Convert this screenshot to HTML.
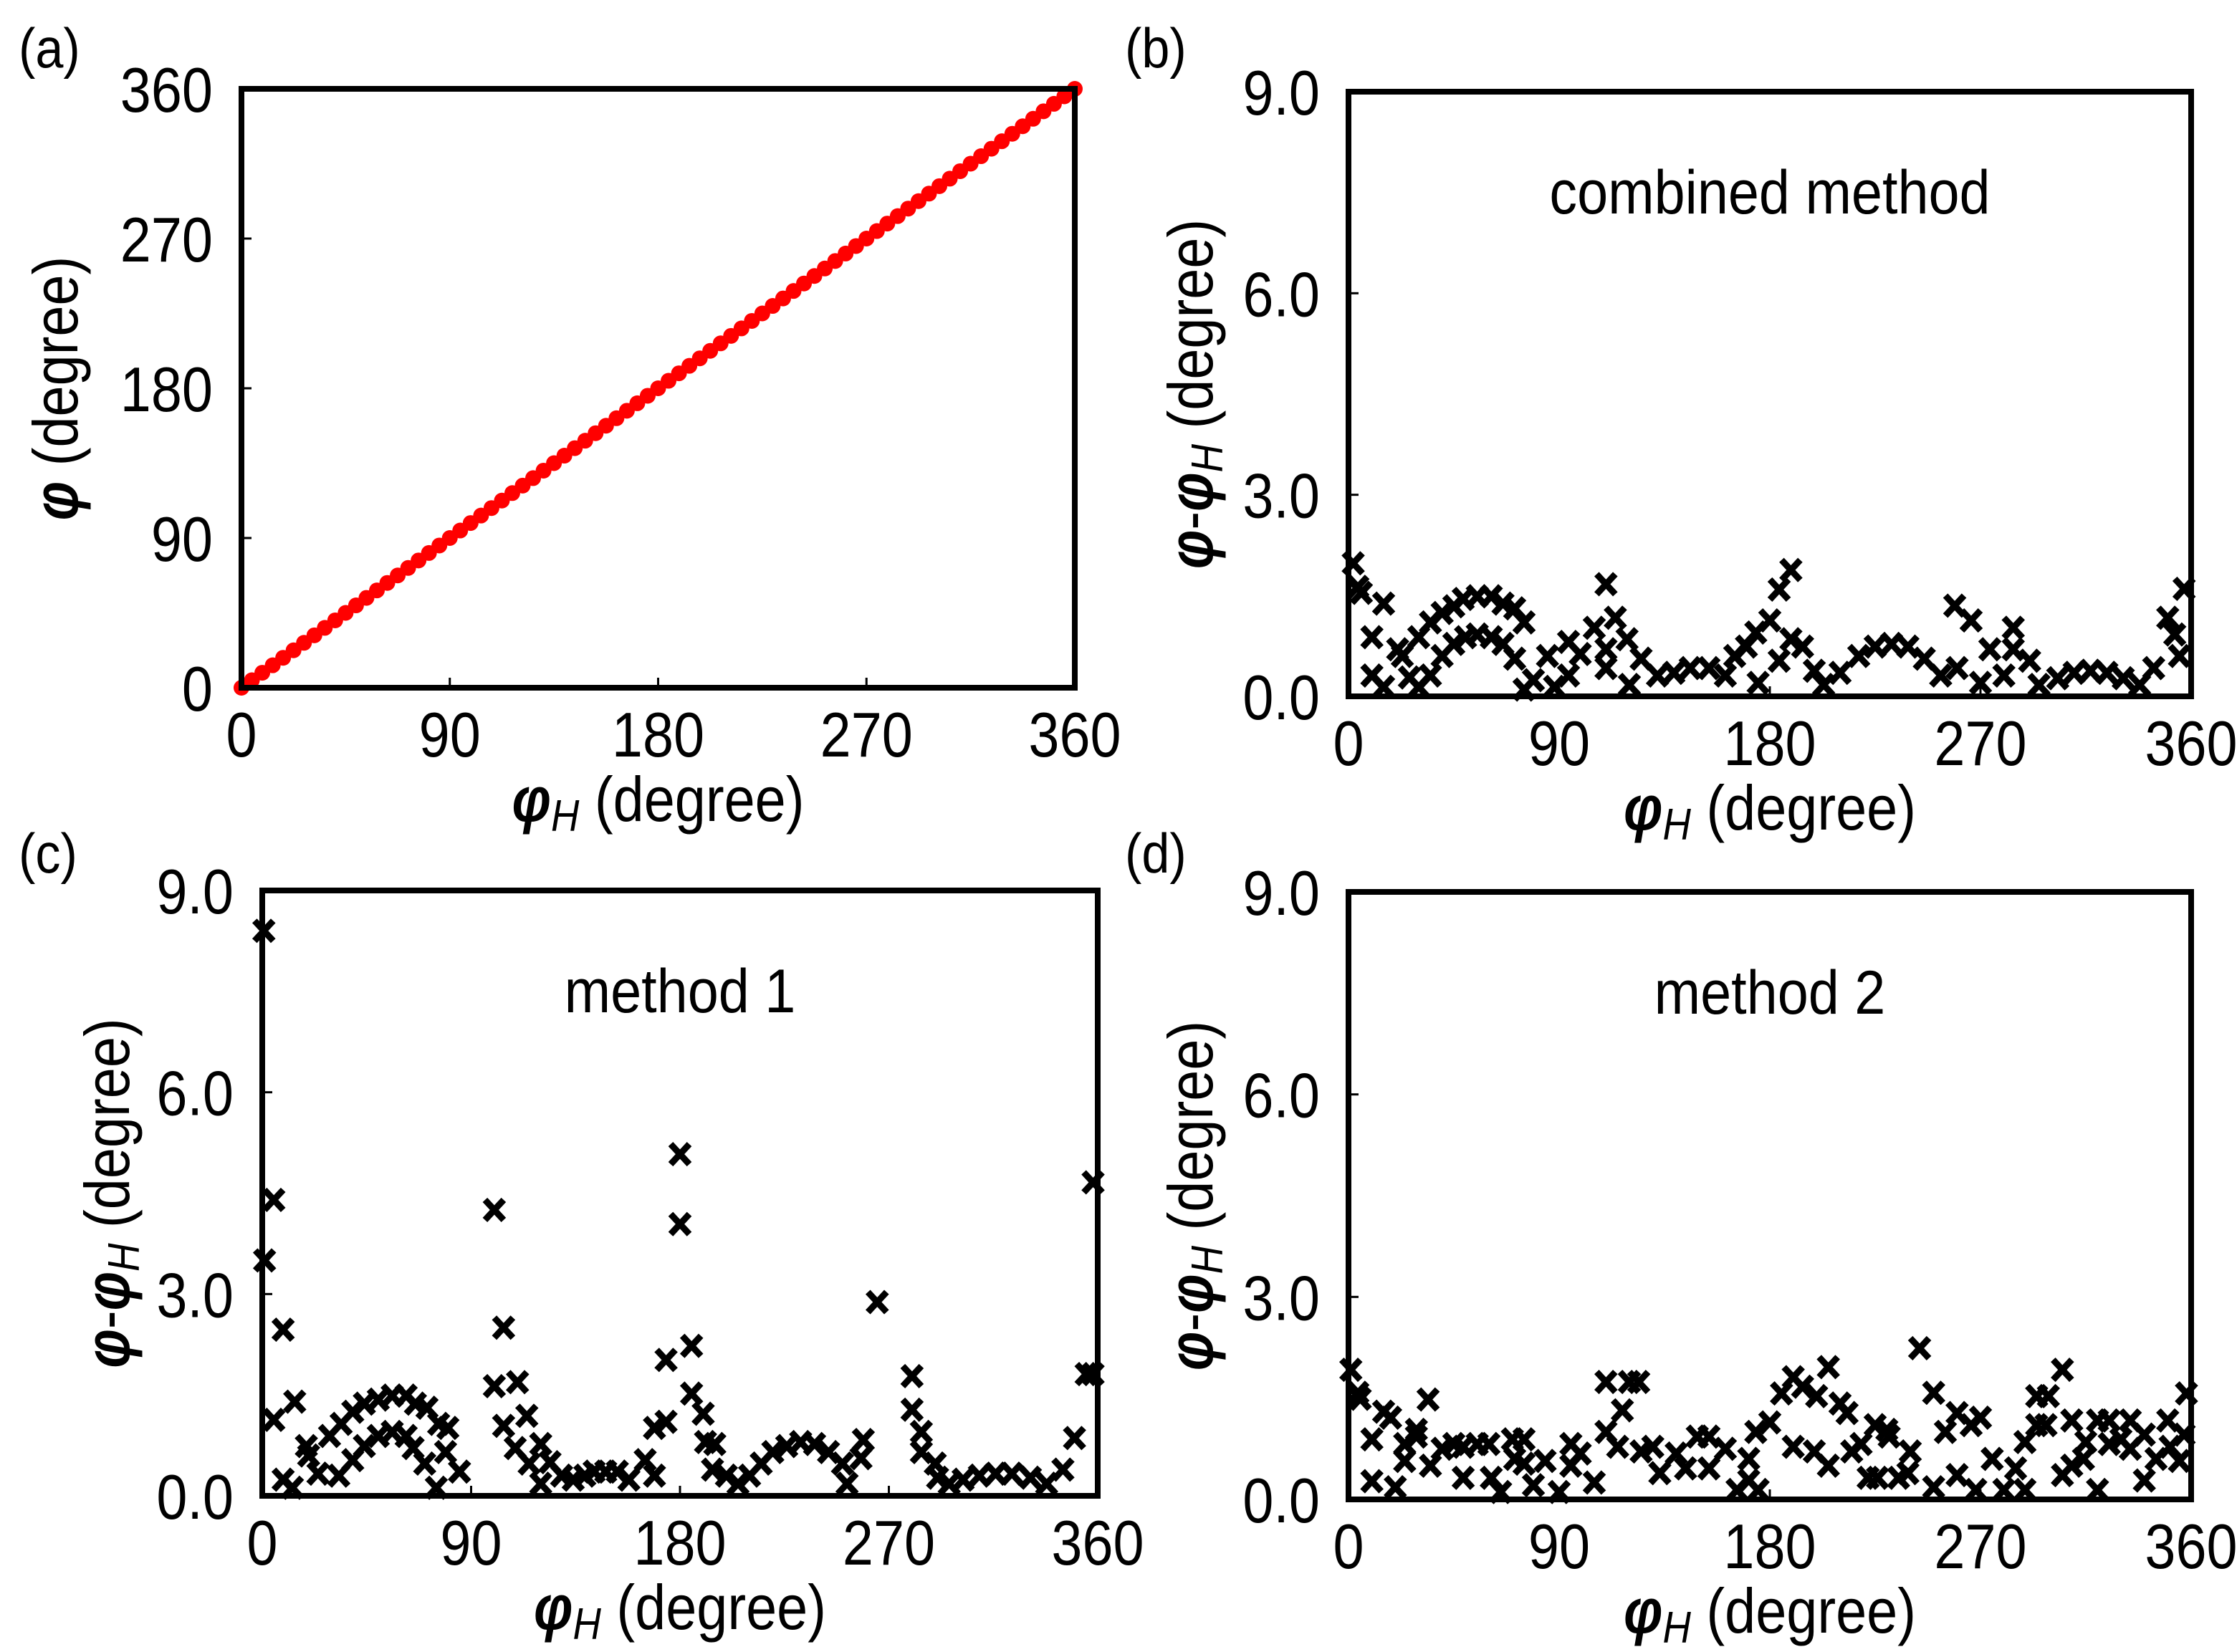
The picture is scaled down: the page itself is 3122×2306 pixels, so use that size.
<!DOCTYPE html>
<html><head><meta charset="utf-8">
<style>
html,body{margin:0;padding:0;background:#fff;}
svg{display:block;font-family:"Liberation Sans",Arial,sans-serif;}
</style></head>
<body>
<svg id="fig" width="3122" height="2306" viewBox="0 0 3122 2306" xmlns="http://www.w3.org/2000/svg"></svg>
<script>
// ---- data ----
const aPhiH = [0,4.5,9,13.5,18,22.5,27,31.5,36,40.5,45,49.5,54,58.5,63,67.5,72,76.5,81,85.5,90,94.5,99,103.5,108,112.5,117,121.5,126,130.5,135,139.5,144,148.5,153,157.5,162,166.5,171,175.5,180,184.5,189,193.5,198,202.5,207,211.5,216,220.5,225,229.5,234,238.5,243,247.5,252,256.5,261,265.5,270,274.5,279,283.5,288,292.5,297,301.5,306,310.5,315,319.5,324,328.5,333,337.5,342,346.5,351,355.5,360];
const aPhi  = [0,4.5,9,13.5,18,22.5,27,31.5,36,40.5,45,49.5,54,58.5,63,67.5,72,76.5,81,85.5,90,94.5,99,103.5,108,112.5,117,121.5,126,130.5,135,139.5,144,148.5,153,157.5,162,166.5,171,175.5,180,184.5,189,193.5,198,202.5,207,211.5,216,220.5,225,229.5,234,238.5,243,247.5,252,256.5,261,265.5,270,274.5,279,283.5,288,292.5,297,301.5,306,310.5,315,319.5,324,328.5,333,337.5,342,346.5,351,355.5,360];

const bX = [2,4,5.5,15,10,10,15,21,23,26,30,30,35,35,40,40,45,45,49,50,55,55,61,61,66,66,71,71,75,79,75,85,88,94,94,99,105,110,114,110,110,119,120,125,132,139,146,154,161,165,170,175,174,180,184,189,184,189,194,199,203,210,218,225,232,239,246,253,259,266,260,270,274,280,284,284,291,295,303,310,317,324,331,338,344,350,353,355,357];
const bY = [1.98,1.63,1.54,1.38,0.88,0.31,0.14,0.7,0.6,0.28,0.88,0.14,0.31,1.1,1.24,0.6,1.34,0.78,1.45,0.88,1.49,0.92,1.49,0.88,1.38,0.78,1.31,0.56,1.1,0.24,0.1,0.6,0.14,0.81,0.31,0.63,1.02,1.67,1.17,0.7,0.42,0.85,0.17,0.56,0.31,0.35,0.42,0.42,0.31,0.6,0.74,0.2,0.95,1.13,1.59,1.88,0.53,0.85,0.74,0.38,0.17,0.35,0.6,0.74,0.78,0.74,0.56,0.31,1.35,1.13,0.42,0.2,0.7,0.31,1.02,0.7,0.53,0.17,0.27,0.35,0.38,0.35,0.27,0.17,0.42,1.17,0.92,0.6,1.6];

const cX = [0.7,5,1,9,5,14,9,13,19,20,24,29,33,34,39,39,44,44,50,50,56,56,62,62,66,65,71,70,76,75,80,79,85,100,104,100,110,104,114,109,115,120,120,124,129,134,139,143,148,153,158,165,169,169,174,174,180,180,185,185,190,191,195,194,200,205,210,215,220,226,232,238,244,250,252,259,258,265,280,280,284,284,290,291,296,302,309,316,323,331,338,345,350,355,358,358];
const cY = [8.4,4.4,3.5,2.47,1.13,1.4,0.24,0.12,0.74,0.6,0.33,0.89,0.3,1.07,1.25,0.53,1.37,0.74,1.43,0.89,1.49,0.95,1.49,0.89,1.37,0.71,1.31,0.48,1.07,0.12,1.01,0.65,0.36,4.25,2.5,1.63,1.69,1.04,1.19,0.71,0.48,0.77,0.18,0.5,0.3,0.24,0.3,0.36,0.36,0.36,0.24,0.53,0.3,1.01,1.1,2.02,5.08,4.04,2.23,1.52,1.22,0.8,0.77,0.39,0.3,0.18,0.3,0.48,0.65,0.74,0.8,0.77,0.65,0.48,0.18,0.83,0.56,2.88,1.78,1.28,0.95,0.65,0.48,0.27,0.18,0.24,0.3,0.33,0.33,0.27,0.18,0.39,0.86,1.81,1.81,4.66];

const dX = [1,4,5,15,18,10,10,20,24,24,29,29,34,35,40,45,49,49,55,60,61,65,70,75,71,75,79,84,90,95,95,99,105,110,110,115,120,124,117,125,130,133,140,144,149,154,154,161,166,171,171,175,174,180,185,190,194,200,205,190,199,205,210,213,215,219,222,226,225,230,231,235,239,240,244,250,255,250,260,266,270,260,268,275,280,285,289,289,294,294,299,298,305,305,309,309,315,314,320,320,325,325,330,334,334,340,340,345,350,351,355,357,358];
const dY = [1.92,1.58,1.49,1.3,1.21,0.89,0.27,0.18,0.82,0.57,1.03,0.93,1.48,0.5,0.75,0.82,0.78,0.32,0.82,0.82,0.32,0.11,0.89,0.89,0.6,0.53,0.21,0.57,0.11,0.82,0.5,0.68,0.25,1.74,1.0,0.78,1.74,1.74,1.32,0.71,0.78,0.39,0.68,0.46,0.93,0.93,0.46,0.75,0.14,0.6,0.28,0.14,1.0,1.14,1.57,1.81,1.67,1.53,1.96,0.78,0.71,0.5,1.42,1.28,0.71,0.82,0.32,0.32,1.1,1.03,0.93,0.32,0.39,0.71,2.24,1.58,1.0,0.18,1.28,1.1,1.21,0.36,0.14,0.6,0.14,0.46,0.14,0.85,1.1,1.53,1.53,1.1,1.92,0.36,1.17,0.5,0.85,0.6,0.14,1.17,1.17,0.82,0.89,1.17,0.75,0.28,0.96,0.6,1.17,0.78,0.57,0.96,1.57];

const xTicks = [0,90,180,270,360];
const aYTicks = [0,90,180,270,360];
const dYTicks = [0,3,6,9];
const dYTickLabels = ["0.0","3.0","6.0","9.0"];

// ---- drawing ----
const NS = "http://www.w3.org/2000/svg";
const svg = document.getElementById('fig');
const SX = 0.88;
function mk(tag, attrs, parent){
  const e = document.createElementNS(NS, tag);
  for (const k in attrs) e.setAttribute(k, attrs[k]);
  (parent||svg).appendChild(e);
  return e;
}
function txt(parent, x, y, size, anchor, rot, sx){
  const t = mk('text',{x:0,y:0,'font-size':size,'text-anchor':anchor,fill:'#000',
    transform:`translate(${x} ${y})${rot?' rotate(-90)':''} scale(${sx||SX} 1)`}, parent);
  return t;
}
function scale(d0,d1,r0,r1){ return v => r0 + (v-d0)/(d1-d0)*(r1-r0); }

function panel(cfg){
  const g = mk('g', {});
  
  
  const sx = scale(0,360,cfg.x0,cfg.x1);
  const sy = scale(cfg.ymin,cfg.ymax,cfg.y1,cfg.y0);
  xTicks.forEach((t,i)=>{
    const x = sx(t);
    if (i>0 && i<xTicks.length-1){
      const tk = mk('line',{x1:x,x2:x,y1:cfg.y1,y2:cfg.y1-14,stroke:'#000','stroke-width':3},g);
      
      
    }
    const tl = txt(g, x, cfg.y1+96, 88, 'middle');
    
    
    tl.textContent = String(t);
  });
  cfg.yticks.forEach((t,i)=>{
    const y = sy(t);
    if (i>0 && i<cfg.yticks.length-1){
      const tk = mk('line',{x1:cfg.x0,x2:cfg.x0+14,y1:y,y2:y,stroke:'#000','stroke-width':3},g);
      
      
    }
    const tl = txt(g, cfg.x0-40, y+32, 88, 'end');
    
    
    tl.textContent = cfg.ylabels[i];
  });
  for (let i=0;i<cfg.xs.length;i++){
    const x = sx(cfg.xs[i]), y = sy(cfg.ys[i]);
    if (cfg.dots){
      const c = mk('circle',{cx:x,cy:y,r:11,fill:'#ff0000'},g);
      
      
    } else {
      const m = mk('path',{d:`M${x-13},${y-14}L${x+13},${y+14}M${x-13},${y+14}L${x+13},${y-14}`,stroke:'#000','stroke-width':9,fill:'none'},g);
      
      
    }
  }
  const fr = mk('rect',{x:cfg.x0,y:cfg.y0,width:cfg.x1-cfg.x0,height:cfg.y1-cfg.y0,fill:'none',stroke:'#000','stroke-width':8},g);
  
  
  const pl = txt(g, cfg.lx, cfg.ly, 78, 'start', false, 0.9);
  
  
  pl.textContent = '(' + cfg.id + ')';
  const xt = txt(g, (cfg.x0+cfg.x1)/2, cfg.y1+186, 88, 'middle');
  
  
  xt.innerHTML = '<tspan font-style="italic" font-weight="bold">φ</tspan><tspan font-style="italic" font-size="62" dy="14">H</tspan><tspan dy="-14"> (degree)</tspan>';
  const yc = (cfg.y0+cfg.y1)/2;
  const yt = txt(g, cfg.ytx, yc, 88, 'middle', true);
  
  
  yt.innerHTML = cfg.ytitle;
  if (cfg.note){
    const nt = txt(g, (cfg.x0+cfg.x1)/2, cfg.y0+170, 86, 'middle', false, 0.9);
    
    
    nt.textContent = cfg.note;
  }
}
const diffTitle = '<tspan font-style="italic" font-weight="bold">φ</tspan><tspan>-</tspan><tspan font-style="italic" font-weight="bold">φ</tspan><tspan font-style="italic" font-size="62" dy="14">H</tspan><tspan dy="-14"> (degree)</tspan>';

panel({id:'a',x0:337,x1:1500,y0:124,y1:960,ymin:0,ymax:360,yticks:aYTicks,ylabels:aYTicks.map(String),xs:aPhiH,ys:aPhi,dots:true,lx:26,ly:94,ytx:108,
  ytitle:'<tspan font-style="italic" font-weight="bold">φ</tspan><tspan> (degree)</tspan>'});
panel({id:'b',x0:1882,x1:3058,y0:128,y1:972,ymin:0,ymax:9,yticks:dYTicks,ylabels:dYTickLabels,xs:bX,ys:bY,lx:1570,ly:94,ytx:1692,ytitle:diffTitle,note:'combined method'});
panel({id:'c',x0:366,x1:1532,y0:1243,y1:2088,ymin:0,ymax:9,yticks:dYTicks,ylabels:dYTickLabels,xs:cX,ys:cY,lx:26,ly:1218,ytx:180,ytitle:diffTitle,note:'method 1'});
panel({id:'d',x0:1882,x1:3058,y0:1245,y1:2093,ymin:0,ymax:9,yticks:dYTicks,ylabels:dYTickLabels,xs:dX,ys:dY,lx:1570,ly:1218,ytx:1692,ytitle:diffTitle,note:'method 2'});
</script>
</body></html>
